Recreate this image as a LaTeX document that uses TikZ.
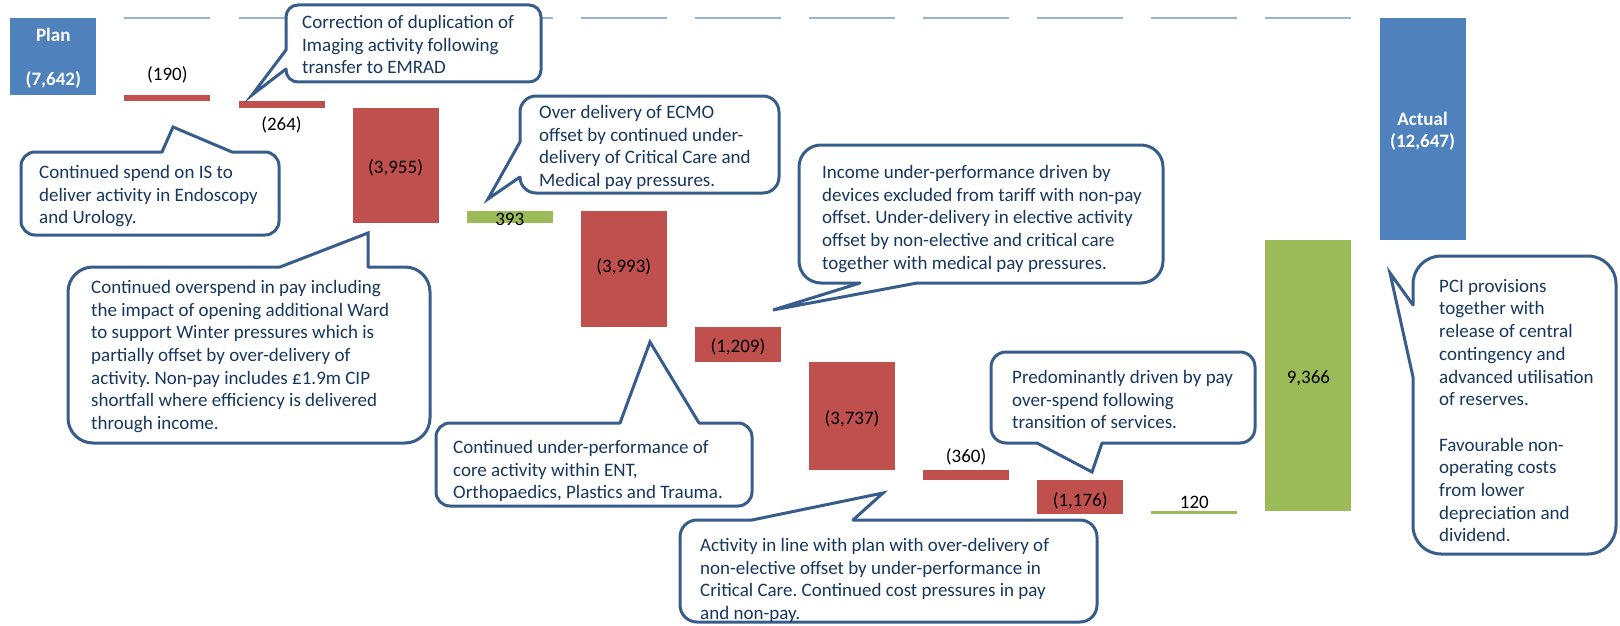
\documentclass[tikz,border=0pt]{standalone}
\usepackage{fontspec}
\setmainfont{Carlito}
\frenchspacing
\definecolor{barblue}{RGB}{79,129,189}
\definecolor{barred}{RGB}{192,80,77}
\definecolor{bargreen}{RGB}{155,187,89}
\definecolor{gridblue}{RGB}{149,179,215}
\definecolor{cborder}{RGB}{56,93,138}
\definecolor{ctext}{RGB}{23,55,94}
\newcommand{\calloutfont}{\fontsize{19}{22.7}\selectfont}
\newcommand{\barfont}{\fontsize{19}{22}\selectfont}
\begin{document}
\begin{tikzpicture}[x=1pt,y=-1pt,
  callout/.style={draw=cborder, fill=white, line width=3pt, line cap=round},
  ctxt/.style={anchor=north west, inner sep=0pt, align=left, text=ctext, font=\calloutfont},
  blab/.style={inner sep=0pt, font=\barfont, text=black},
  wlab/.style={inner sep=0pt, font=\barfont\bfseries, text=white},
  gridseg/.style={draw=gridblue, line width=1.5pt}]
\useasboundingbox (0,0) rectangle (1620,626);
% bars
\fill[barblue]  (10.3,18)    rectangle (96.3,95);
\fill[barred]   (124.4,95)   rectangle (210.4,100.5);
\fill[barred]   (238.5,100.5) rectangle (324.5,108.1);
\fill[barred]   (352.6,108.1) rectangle (438.6,222.5);
\fill[bargreen] (466.7,211.1) rectangle (552.7,222.5);
\fill[barred]   (580.8,211.1) rectangle (666.8,326.6);
\fill[barred]   (694.9,326.6) rectangle (780.9,361.6);
\fill[barred]   (809,361.6)  rectangle (895,469.7);
\fill[barred]   (923.1,469.7) rectangle (1009.1,480.1);
\fill[barred]   (1037.2,480.1) rectangle (1123.2,514.1);
\fill[bargreen] (1151.3,510.6) rectangle (1237.3,514.1);
\fill[bargreen] (1265.4,239.7) rectangle (1351.4,510.6);
\fill[barblue]  (1379.5,18)  rectangle (1465.5,239.7);
% zero line segments
\foreach \i in {1,...,11}{
  \draw[gridseg] ({10.3+114.1*\i},18) -- ({96.3+114.1*\i},18);
}
% callout A
\filldraw[callout, rounded corners=12] (286,50) -- (286,5) -- (541,5) -- (541,82) -- (286,82) -- (286,69);
\filldraw[callout] (286,69) -- (252,95) -- (286,50);
\node[ctxt] (tA) at (302,15) {Correction of duplication of\\Imaging activity following\\transfer to EMRAD};
% callout B
\filldraw[callout, rounded corners=14] (162,152) -- (21,152) -- (21,235) -- (279,235) -- (279,152) -- (232,152);
\filldraw[callout] (232,152) -- (173,127) -- (162,152);
\node[ctxt] (tB) at (39,165) {Continued spend on IS to\\deliver activity in Endoscopy\\and Urology.};
% callout C
\filldraw[callout, rounded corners=25] (280,267) -- (68,267) -- (68,443) -- (430,443) -- (430,267) -- (368,267);
\filldraw[callout] (368,267) -- (368,233) -- (280,267);
\node[ctxt] (tC) at (91,280) {Continued overspend in pay including\\the impact of opening additional Ward\\to support Winter pressures which is\\partially offset by over-delivery of\\activity. Non-pay includes £1.9m CIP\\shortfall where efficiency is delivered\\through income.};
% callout D
\filldraw[callout, rounded corners=16] (520,142) -- (520,96) -- (779,96) -- (779,193) -- (520,193) -- (520,177);
\filldraw[callout] (520,177) -- (488,199) -- (520,142);
\node[ctxt] (tD) at (539,105) {Over delivery of ECMO\\offset by continued under-\\delivery of Critical Care and\\Medical pay pressures.};
% callout E
\filldraw[callout, rounded corners=22] (860,283) -- (799,283) -- (799,145) -- (1163,145) -- (1163,283) -- (917,283);
\filldraw[callout] (917,283) -- (773,310) -- (860,283);
\node[ctxt] (tE) at (822,165) {Income under-performance driven by\\devices excluded from tariff with non-pay\\offset. Under-delivery in elective activity\\offset by non-elective and critical care\\together with medical pay pressures.};
% callout F
\filldraw[callout, rounded corners=14] (620,423) -- (436,423) -- (436,506) -- (752,506) -- (752,423) -- (699,423);
\filldraw[callout] (699,423) -- (650,342) -- (620,423);
\node[ctxt] (tF) at (453,440) {Continued under-performance of\\core activity within ENT,\\Orthopaedics, Plastics and Trauma.};
% callout G
\filldraw[callout, rounded corners=15] (1037,443) -- (991,443) -- (991,352) -- (1255,352) -- (1255,443) -- (1102,443);
\filldraw[callout] (1102,443) -- (1092,472) -- (1037,443);
\node[ctxt] (tG) at (1012,370) {Predominantly driven by pay\\over-spend following\\transition of services.};
% callout H
\filldraw[callout, rounded corners=17] (752,520) -- (680,520) -- (680,622) -- (1097,622) -- (1097,520) -- (853,520);
\filldraw[callout] (853,520) -- (883,493) -- (752,520);
\node[ctxt] (tH) at (700,538) {Activity in line with plan with over-delivery of\\non-elective offset by under-performance in\\Critical Care. Continued cost pressures in pay\\and non-pay.};
% callout I
\filldraw[callout, rounded corners=28] (1413,305) -- (1413,256) -- (1616,256) -- (1616,554) -- (1413,554) -- (1413,377);
\filldraw[callout] (1413,377) -- (1390,273) -- (1413,305);
\node[ctxt] (tI) at (1439,279) {PCI provisions\\together with\\release of central\\contingency and\\advanced utilisation\\of reserves.\\[22.7pt]Favourable non-\\operating costs\\from lower\\depreciation and\\dividend.};
% bar labels
\node[wlab] (lplan) at (53.3,35) {Plan};
\node[wlab] (lplanv) at (53.3,80) {(7,642)};
\node[blab] (l1) at (167.4,75) {(190)};
\node[blab] (l2) at (281.5,125) {(264)};
\node[blab] (l3) at (395.6,168) {(3,955)};
\node[blab] (l4) at (509.7,219) {393};
\node[blab] (l5) at (623.8,267) {(3,993)};
\node[blab] (l6) at (737.9,347) {(1,209)};
\node[blab] (l7) at (852,419) {(3,737)};
\node[blab] (l8) at (966.1,457) {(360)};
\node[blab] (l9) at (1080.2,501) {(1,176)};
\node[blab] (l10) at (1194.3,502) {120};
\node[blab] (l11) at (1308.4,378) {9,366};
\node[wlab] (lact) at (1422.5,119) {Actual};
\node[wlab] (lactv) at (1422.5,142) {(12,647)};
\end{tikzpicture}
\end{document}
